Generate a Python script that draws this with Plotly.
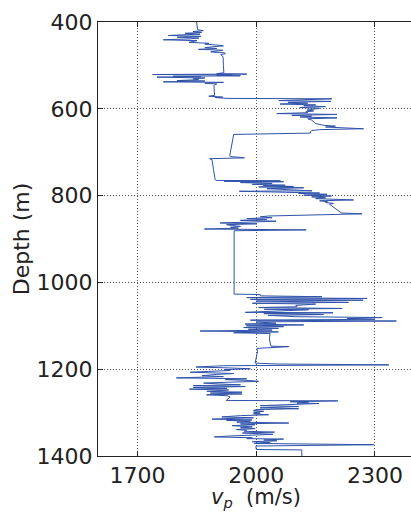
import plotly.graph_objects as go

# Well log: P-wave velocity vs depth
depth_a = [400, 410, 418, 420, 422, 424, 426, 428, 431, 433,
           435, 437, 439, 441, 443, 445, 447, 449, 451, 453,
           455, 457, 459, 461, 463, 465, 467, 469, 471, 473, 475]
vp_a = [1849, 1850, 1852, 1866, 1840, 1862, 1820, 1858, 1778, 1860,
        1800, 1855, 1830, 1765, 1850, 1840, 1830, 1880, 1870, 1900,
        1917, 1890, 1870, 1900, 1854, 1915, 1900, 1885, 1920, 1922, 1910]

depth_b = [480, 500, 517, 519, 520, 521, 522, 523, 524, 525,
           526, 527, 529, 531, 533, 535, 536, 538, 539, 541,
           543, 545, 546, 560, 569, 571, 573, 574, 576]
vp_b = [1916, 1917, 1918, 1900, 1976, 1738, 1940, 1900, 1960, 1790,
        1860, 1749, 1870, 1840, 1854, 1800, 1870, 1765, 1917, 1870,
        1900, 1895, 1893, 1894, 1895, 1880, 1915, 1896, 1926]

depth_c = [577, 579, 581, 583, 585, 587, 589, 591, 593, 595,
           597, 599, 601, 603, 605, 607, 609, 611, 613, 615,
           617, 619, 621, 623, 626, 630, 634, 638, 640, 642,
           644, 646, 648, 650, 653, 656, 659]
vp_c = [2191, 2100, 2057, 2189, 2080, 2130, 2060, 2150, 2120, 2175,
        2110, 2160, 2140, 2128, 2145, 2125, 2130, 2052, 2204, 2090,
        2140, 2111, 2204, 2130, 2140, 2145, 2150, 2170, 2200, 2175,
        2230, 2271, 2160, 2140, 2137, 2137, 1943]

depth_d = [680, 707, 710, 713, 715, 717, 740, 763]
vp_d = [1938, 1933, 1934, 1970, 1882, 1888, 1892, 1896]

depth_e = [765, 766, 767, 768, 770, 772, 774, 776, 777, 779,
           780, 782, 784, 786, 789, 790, 792, 794, 795, 797,
           799, 801, 803, 805, 807, 810, 812, 814, 816, 818,
           820, 830, 840, 842, 845, 847, 849, 851, 853, 855,
           857, 859, 861, 863, 865, 867, 869, 871, 873, 875,
           877, 879, 881]
vp_e = [1900, 2061, 1919, 2069, 1960, 2040, 1990, 2073, 2018, 2094,
        2006, 2120, 2027, 2080, 2141, 1957, 2100, 2160, 2107, 2179,
        2120, 2190, 2140, 2175, 2150, 2246, 2160, 2180, 2175, 2195,
        2185, 2200, 2215, 2267, 2052, 2030, 2010, 2040, 1976, 2027,
        1960, 2050, 1985, 1909, 2002, 1925, 1940, 1960, 1935, 1955,
        1869, 2126, 1944]

depth_f = [1027, 1028, 1031, 1033, 1035, 1037, 1039, 1041, 1043, 1046,
           1048, 1050, 1053, 1056, 1058, 1060, 1062, 1063, 1066, 1069,
           1070, 1072, 1074, 1076, 1079, 1080, 1081, 1083, 1085, 1087,
           1089, 1091, 1094, 1096, 1098, 1100, 1102, 1104, 1106, 1108,
           1110, 1112, 1114, 1116, 1118, 1130, 1147, 1148, 1150, 1152,
           1160, 1166]
vp_f = [1944, 2010, 2010, 2166, 1976, 2280, 1985, 2270, 2000, 2233,
        1990, 2150, 2100, 2103, 2006, 2217, 2020, 2132, 2050, 1972,
        2194, 2019, 2170, 2030, 2100, 2217, 2318, 2230, 2300, 1985,
        2354, 2000, 2050, 1972, 2120, 1975, 2069, 1968, 2056, 1980,
        2040, 1858, 2056, 1943, 2035, 2033, 2037, 2082, 2014, 2002,
        2003, 2002]

depth_g = [1175, 1186, 1188, 1190, 1192, 1195, 1197, 1199, 1201, 1203,
           1205, 1207, 1209, 1210, 1212, 1215, 1217, 1220, 1222, 1224,
           1226, 1228, 1230, 1232, 1234, 1236, 1238, 1240, 1242, 1244,
           1246, 1248, 1251, 1253, 1255, 1257, 1259, 1261, 1264, 1268,
           1272, 1273, 1275, 1276, 1278, 1279, 1281, 1284, 1286, 1289,
           1291, 1293, 1295, 1297, 1299, 1301, 1303, 1305, 1307, 1310,
           1312, 1315, 1317, 1318, 1320, 1322, 1324, 1326, 1328, 1330,
           1333, 1335, 1337, 1339, 1341, 1343, 1345, 1347, 1350, 1352,
           1354, 1356, 1358, 1360, 1361, 1363, 1365, 1367, 1369, 1371,
           1374, 1377, 1385, 1386, 1400]
vp_g = [2000, 1997, 2050, 2335, 1917, 1848, 1930, 1985, 1920, 1934,
        1880, 1833, 1909, 1943, 1900, 1863, 1917, 1798, 1976, 1922,
        1981, 2006, 1930, 1867, 1905, 1960, 1841, 1972, 1841, 1926,
        1831, 1930, 1875, 1964, 1884, 1964, 1874, 1926, 1934, 1930,
        1924, 2206, 2086, 2132, 2103, 2158, 2090, 2010, 2107, 2010,
        2107, 2002, 1993, 2019, 1993, 2010, 1993, 2031, 1960, 1913,
        1993, 1888, 1989, 1925, 1985, 1951, 2082, 1960, 1997, 1939,
        1990, 1960, 1997, 1950, 1976, 1970, 2046, 1965, 2042, 1960,
        1930, 1894, 1990, 1976, 2069, 2019, 2052, 1990, 2035, 1995,
        2297, 1999, 2000, 2115, 2115]

depth = depth_a + depth_b + depth_c + depth_d + depth_e + depth_f + depth_g
vp = vp_a + vp_b + vp_c + vp_d + vp_e + vp_f + vp_g

x_ticks = [1700, 2000, 2300]
y_ticks = [400, 600, 800, 1000, 1200, 1400]
x_title = "<i>v</i><sub><i>p</i></sub>  (m/s)"
y_title = "Depth (m)"

fig = go.Figure()
fig.add_trace(go.Scatter(x=vp, y=depth, mode="lines",
                         line=dict(color="#2f52aa", width=1),
                         showlegend=False, hoverinfo="skip"))

font = dict(family="DejaVu Sans", size=22, color="#222222")
title_font = dict(family="DejaVu Sans", size=21, color="#222222")
grid = dict(showgrid=True, gridcolor="#555555", griddash="1px,2px", gridwidth=1)
fig.update_layout(
    width=411, height=512,
    margin=dict(l=98, r=0, t=22, b=56),
    paper_bgcolor="white", plot_bgcolor="white",
    font=font,
    xaxis=dict(range=[1600, 2391], tickvals=x_ticks, **grid,
               showline=True, linecolor="#222222", linewidth=1, mirror="ticks",
               ticks="inside", ticklen=5, tickcolor="#222222",
               zeroline=False, tickfont=font),
    yaxis=dict(range=[1400, 400], tickvals=y_ticks, **grid,
               showline=True, linecolor="#222222", linewidth=1,
               ticks="inside", ticklen=5, tickcolor="#222222",
               zeroline=False, tickfont=font,
               title=dict(text=y_title, font=font, standoff=0)),
    annotations=[dict(text=x_title, xref="paper", yref="paper",
                      x=0.505, y=-0.097, xanchor="center", yanchor="middle",
                      showarrow=False, font=title_font)],
)

fig.write_html("out.html")
